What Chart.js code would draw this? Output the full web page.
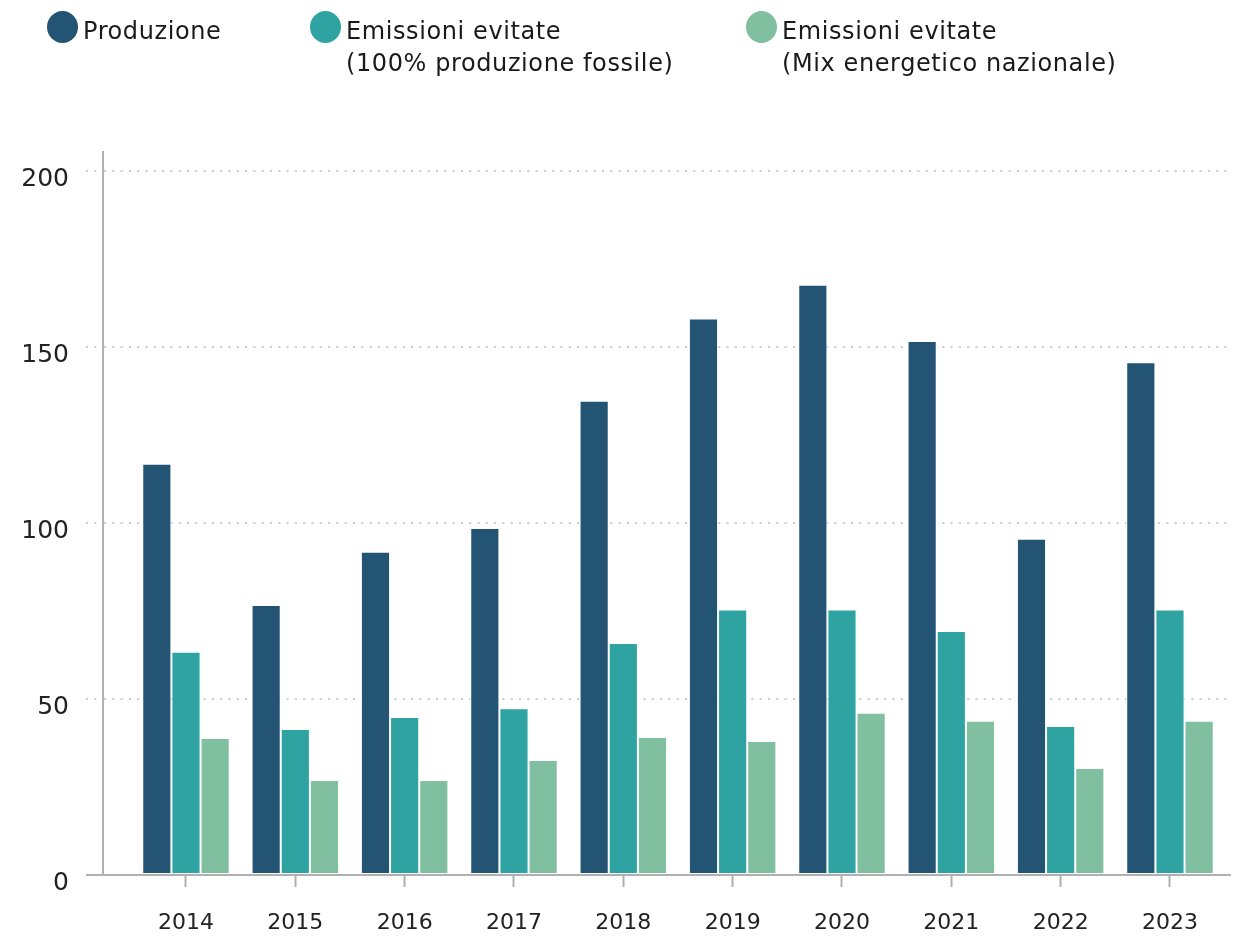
<!DOCTYPE html>
<html>
<head>
<meta charset="utf-8">
<script src="https://cdn.jsdelivr.net/npm/chart.js@4"></script>
<style>
  html, body { margin: 0; padding: 0; background: #ffffff; }
  #wrap { position: relative; width: 1248px; height: 938px; }
  canvas { position: absolute; left: 0; top: 0; }
  .lg-item { position: absolute; display: flex; align-items: flex-start; }
  .lg-dot { width: 31px; height: 32px; border-radius: 50%; margin-right: 5px; flex: none; }
  .lg-text { font-family: "DejaVu Sans", sans-serif; font-size: 24px; line-height: 32px; color: #1a1a1a; font-weight: normal; letter-spacing: 0.6px; }
</style>
</head>
<body>
<div id="wrap">
  <canvas id="c" width="1248" height="938"></canvas>
  <div id="legend"></div>
</div>
<script>
const years = [2014, 2015, 2016, 2017, 2018, 2019, 2020, 2021, 2022, 2023];
const produzione = [116.8, 76.7, 91.8, 98.6, 134.7, 158.1, 167.7, 151.7, 95.5, 145.7];
const emissioniFossile = [63.4, 41.5, 44.9, 47.4, 65.9, 75.4, 75.4, 69.3, 42.3, 75.4];
const emissioniMix = [38.9, 27.0, 27.0, 32.7, 39.2, 38.1, 46.1, 43.8, 30.4, 43.8];
const seriesNames = [
  ["Produzione"],
  ["Emissioni evitate", "(100% produzione fossile)"],
  ["Emissioni evitate", "(Mix energetico nazionale)"]
];
const seriesColors = ["#235474", "#2ea3a1", "#80bf9f"];
const yTicks = [0, 50, 100, 150, 200];

// HTML legend built from series names
const legendPos = [[47, 11], [310, 11], [746, 11]];
const legendEl = document.getElementById('legend');
seriesNames.forEach((lines, i) => {
  const item = document.createElement('div');
  item.className = 'lg-item';
  item.style.left = legendPos[i][0] + 'px';
  item.style.top = legendPos[i][1] + 'px';
  const dot = document.createElement('div');
  dot.className = 'lg-dot';
  dot.style.background = seriesColors[i];
  const txt = document.createElement('div');
  txt.className = 'lg-text';
  txt.style.marginTop = '4px';
  lines.forEach(l => { const d = document.createElement('div'); d.textContent = l; txt.appendChild(d); });
  item.appendChild(dot); item.appendChild(txt);
  legendEl.appendChild(item);
});

const seriesData = [produzione, emissioniFossile, emissioniMix];
const FONT = '"DejaVu Sans", sans-serif';
const DOTS = [2, 6.3];

new Chart(document.getElementById('c'), {
  type: 'bar',
  data: {
    labels: years,
    datasets: seriesData.map((d, i) => ({
      label: seriesNames[i].join(' '),
      data: d,
      backgroundColor: seriesColors[i],
      borderColor: '#ffffff',
      borderWidth: 1,
      borderSkipped: false,
      categoryPercentage: 0.8,
      barPercentage: 1.0
    }))
  },
  options: {
    responsive: false,
    devicePixelRatio: 1,
    animation: false,
    layout: { padding: { left: 0, right: 18, top: 152, bottom: 0 } },
    plugins: { legend: { display: false }, tooltip: { enabled: false } },
    scales: {
      x: {
        type: 'linear',
        min: 2013.241,
        max: 2023.549,
        offset: false,
        afterBuildTicks: s => { s.ticks = years.map(v => ({ value: v })); },
        afterFit: s => { s.height = 938 - 875; },
        ticks: {
          callback: v => String(v),
          color: '#222222',
          font: { family: FONT, size: 22 },
          padding: 23,
          autoSkip: false,
          maxRotation: 0
        },
        grid: {
          offset: false,
          drawOnChartArea: false,
          drawTicks: true,
          tickLength: 12,
          tickColor: '#b0b0b0',
          tickWidth: 2
        },
        border: { color: '#b0b0b0', width: 2 }
      },
      y: {
        min: 0,
        max: 205.4,
        afterBuildTicks: s => { s.ticks = yTicks.map(v => ({ value: v })); },
        afterFit: s => { s.width = 103; },
        ticks: {
          color: '#222222',
          font: { family: FONT, size: 25 },
          padding: 17,
          labelOffset: 8
        },
        grid: {
          color: ctx => (ctx.tick && ctx.tick.value === 0) ? 'rgba(0,0,0,0)' : '#cccccc',
          lineWidth: 2,
          tickLength: 17,
          tickColor: ctx => (ctx.tick && ctx.tick.value === 0) ? '#b0b0b0' : '#cccccc',
          tickBorderDash: ctx => (ctx.tick && ctx.tick.value === 0) ? [] : DOTS,
          tickWidth: 2
        },
        border: { color: '#b0b0b0', width: 2, dash: DOTS }
      }
    }
  }
});
</script>
</body>
</html>
